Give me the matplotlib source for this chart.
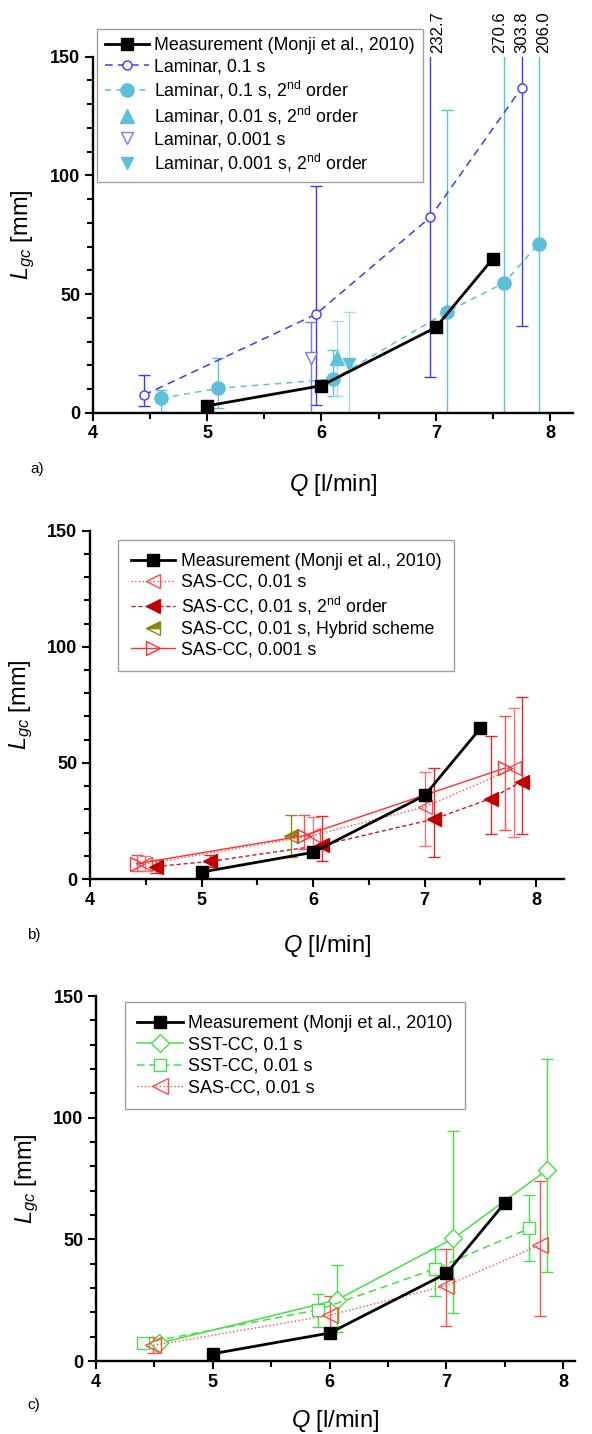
import matplotlib
matplotlib.use('Agg')
import matplotlib.pyplot as plt
from matplotlib.ticker import MultipleLocator

plt.rcParams['font.family'] = ['Liberation Sans', 'DejaVu Sans']
plt.rcParams['mathtext.fontset'] = 'custom'
plt.rcParams['mathtext.rm'] = 'Liberation Sans'
plt.rcParams['mathtext.it'] = 'Liberation Sans:italic'
plt.rcParams['mathtext.bf'] = 'Liberation Sans:bold'

# measurement (same in every panel)
meas_q = [5.0, 6.0, 7.0, 7.5]
meas_l = [3.0, 11.5, 36.0, 65.0]

# panel a
lam01_q = [4.45, 5.95, 6.95, 7.75]
lam01_l = [7.6, 41.5, 82.3, 136.8]
lam01_lo = [2.9, 3.4, 15.3, 36.8]
lam01_hi = [16.0, 95.5, 232.7, 303.8]

lam01b_q = [4.60, 5.10, 6.10, 7.10, 7.60, 7.90]
lam01b_l = [6.2, 10.4, 14.2, 42.6, 54.8, 71.3]
lam01b_lo = [0.5, 2.0, 7.1, 0.0, 0.0, 0.0]
lam01b_hi = [9.7, 23.0, 26.5, 127.7, 270.6, 206.0]

lam001b_q = [6.14]          # 0.01 s, 2nd order
lam001b_l = [23.0]
lam001b_lo = [7.1]
lam001b_hi = [38.8]

lam0001_q = [5.91]          # 0.001 s
lam0001_l = [23.2]
lam0001_lo = [0.0]
lam0001_hi = [38.4]

lam0001b_q = [6.24]         # 0.001 s, 2nd order
lam0001b_l = [20.6]
lam0001b_lo = [0.0]
lam0001b_hi = [42.6]

over_q = [7.02, 7.56, 7.75, 7.94]
over_txt = ['232.7', '270.6', '303.8', '206.0']

# panel b
sas01_q = [4.49, 6.00, 7.00, 7.80]
sas01_l = [6.4, 18.8, 31.0, 47.7]
sas01_lo = [3.4, 9.6, 14.4, 18.3]
sas01_hi = [10.0, 26.7, 46.2, 73.8]

sas01b_q = [4.59, 5.08, 6.08, 7.08, 7.59, 7.87]
sas01b_l = [5.4, 7.6, 14.6, 25.8, 34.6, 42.0]
sas01b_lo = [2.7, 5.0, 7.9, 9.7, 19.4, 19.5]
sas01b_hi = [8.0, 10.5, 27.0, 47.8, 61.5, 78.4]

hyb_q = [5.80]
hyb_l = [18.4]
hyb_lo = [9.7]
hyb_hi = [27.7]

sas001_q = [4.42, 5.92, 7.72]
sas001_l = [6.6, 18.7, 47.8]
sas001_lo = [3.3, 12.9, 21.2]
sas001_hi = [10.2, 27.7, 70.1]

# panel c
sst1_q = [4.54, 6.06, 7.06, 7.86]
sst1_l = [7.3, 25.1, 50.4, 78.5]
sst1_lo = [5.5, 12.0, 19.9, 36.7]
sst1_hi = [9.0, 39.5, 94.7, 124.0]

sst01_q = [4.40, 5.90, 6.90, 7.71]
sst01_l = [7.3, 21.0, 37.8, 54.5]
sst01_lo = [7.3, 14.0, 26.7, 41.1]
sst01_hi = [7.3, 27.5, 45.9, 68.2]

BLUE = '#3a3aff'
BLUE2 = '#7878ff'
CYAN = '#5ebfd8'
CYAN2 = '#a6dbea'
RED = '#ff4a4a'
DRED = '#c00000'
OLIVE = '#8a8a10'
GREEN = '#44e044'


def err(ax, q, l, lo, hi, color, lw=1.0):
    ax.errorbar(q, l, yerr=[[a - b for a, b in zip(l, lo)], [b - a for a, b in zip(l, hi)]],
                fmt='none', ecolor=color, elinewidth=lw, capsize=4, capthick=lw, zorder=2)


def measurement(ax):
    ax.plot(meas_q, meas_l, '-s', color='black', lw=2.0, ms=8.5, zorder=5,
            label='Measurement (Monji et al., 2010)')


def style(ax, xmax, xlab_y):
    ax.set_xlim(4, xmax)
    ax.set_ylim(0, 150)
    for s in ['top', 'right']:
        ax.spines[s].set_visible(False)
    for s in ['left', 'bottom']:
        ax.spines[s].set_linewidth(1.7)
    ax.xaxis.set_major_locator(MultipleLocator(1))
    ax.xaxis.set_minor_locator(MultipleLocator(0.5))
    ax.yaxis.set_major_locator(MultipleLocator(50))
    ax.yaxis.set_minor_locator(MultipleLocator(10))
    ax.tick_params(which='major', length=6, width=1.5, labelsize=13, pad=3)
    ax.tick_params(which='minor', length=4, width=1.5)
    for lab in ax.get_xticklabels() + ax.get_yticklabels():
        lab.set_fontweight('bold')
    ax.set_xlabel('$Q$ [l/min]', fontsize=17)
    ax.set_ylabel('$L_{gc}$ [mm]', fontsize=17)
    ax.xaxis.set_label_coords(0.5, xlab_y)
    ax.yaxis.set_label_coords(-0.115, 0.5)


fig = plt.figure(figsize=(5.92, 14.34), dpi=100)
ax1 = fig.add_axes([0.1566, 0.7120, 0.8113, 0.2485])
ax2 = fig.add_axes([0.1520, 0.3870, 0.8010, 0.2429])
ax3 = fig.add_axes([0.1622, 0.0509, 0.8090, 0.2545])

# ---- a)
err(ax1, lam01_q, lam01_l, lam01_lo, lam01_hi, BLUE)
err(ax1, lam01b_q, lam01b_l, lam01b_lo, lam01b_hi, CYAN)
err(ax1, lam001b_q, lam001b_l, lam001b_lo, lam001b_hi, CYAN2)
err(ax1, lam0001_q, lam0001_l, lam0001_lo, lam0001_hi, BLUE2)
err(ax1, lam0001b_q, lam0001b_l, lam0001b_lo, lam0001b_hi, CYAN2)
measurement(ax1)
ax1.plot(lam01_q, lam01_l, 'o', ls=(0, (5, 3.5)), color=BLUE, lw=1.1, ms=6.5,
         mfc='white', mec=BLUE, zorder=4, label='Laminar, 0.1 s')
ax1.plot(lam01b_q, lam01b_l, 'o', ls=(0, (4, 3.5)), color=CYAN, lw=1.1, ms=9.5,
         zorder=4, label='Laminar, 0.1 s, 2$^{\\mathrm{nd}}$ order')
ax1.plot(lam001b_q, lam001b_l, '^', ls='none', color=CYAN, ms=10, zorder=4,
         label='Laminar, 0.01 s, 2$^{\\mathrm{nd}}$ order')
ax1.plot(lam0001_q, lam0001_l, 'v', ls='none', mfc='white', mec=BLUE2, ms=9, zorder=4,
         label='Laminar, 0.001 s')
ax1.plot(lam0001b_q, lam0001b_l, 'v', ls='none', color=CYAN, ms=9, zorder=4,
         label='Laminar, 0.001 s, 2$^{\\mathrm{nd}}$ order')
for q, t in zip(over_q, over_txt):
    ax1.text(q, 1.01, t, transform=ax1.get_xaxis_transform(), rotation=90,
             ha='center', va='bottom', fontsize=12)
style(ax1, 8.2, -0.165)
ax1.legend(loc='upper left', bbox_to_anchor=(0.008, 1.077), fontsize=12.8, frameon=True,
           fancybox=False, edgecolor='#a0a0a0', framealpha=1, borderaxespad=0,
           handlelength=2.5, handletextpad=0.3, labelspacing=0.22, borderpad=0.45)

# ---- b)
err(ax2, sas01_q, sas01_l, sas01_lo, sas01_hi, '#ff7070')
err(ax2, sas01b_q, sas01b_l, sas01b_lo, sas01b_hi, '#e02828')
err(ax2, hyb_q, hyb_l, hyb_lo, hyb_hi, OLIVE)
err(ax2, sas001_q, sas001_l, sas001_lo, sas001_hi, '#ff5050')
measurement(ax2)
ax2.plot(sas01_q, sas01_l, '<', ls=':', color=RED, lw=1.0, ms=10, mfc='none', mec=RED,
         zorder=4, label='SAS-CC, 0.01 s')
ax2.plot(sas01b_q, sas01b_l, '<', ls=(0, (3, 2)), color='#d01818', lw=1.0, ms=10,
         mfc=DRED, mec=DRED, zorder=4, label='SAS-CC, 0.01 s, 2$^{\\mathrm{nd}}$ order')
ax2.plot(hyb_q, hyb_l, '<', ls='none', ms=10, mfc=OLIVE, mec=OLIVE, fillstyle='top',
         zorder=4, label='SAS-CC, 0.01 s, Hybrid scheme')
ax2.plot(sas001_q, sas001_l, '>', ls='-', color='#ff3030', lw=1.0, ms=10, mfc='none',
         mec='#ff3030', zorder=4, label='SAS-CC, 0.001 s')
style(ax2, 8.25, -0.155)
ax2.legend(loc='upper left', bbox_to_anchor=(0.06, 0.972), fontsize=12.8, frameon=True,
           fancybox=False, edgecolor='#a0a0a0', framealpha=1, borderaxespad=0,
           handlelength=2.5, handletextpad=0.3, labelspacing=0.22, borderpad=0.7)

# ---- c)
err(ax3, sst1_q, sst1_l, sst1_lo, sst1_hi, GREEN)
err(ax3, sst01_q, sst01_l, sst01_lo, sst01_hi, GREEN)
err(ax3, sas01_q, sas01_l, sas01_lo, sas01_hi, '#ff5050')
measurement(ax3)
ax3.plot(sst1_q, sst1_l, 'D', ls='-', color=GREEN, lw=1.1, ms=9, mfc='white', mec=GREEN,
         zorder=4, label='SST-CC, 0.1 s')
ax3.plot(sst01_q, sst01_l, 's', ls=(0, (5, 3)), color=GREEN, lw=1.1, ms=8, mfc='white',
         mec=GREEN, zorder=4, label='SST-CC, 0.01 s')
ax3.plot(sas01_q, sas01_l, '<', ls=':', color=RED, lw=1.0, ms=11, mfc='none', mec=RED,
         zorder=4, label='SAS-CC, 0.01 s')
style(ax3, 8.1, -0.13)
ax3.legend(loc='upper left', bbox_to_anchor=(0.06, 0.983), fontsize=13, frameon=True,
           fancybox=False, edgecolor='#a0a0a0', framealpha=1, borderaxespad=0,
           handlelength=2.5, handletextpad=0.3, labelspacing=0.25, borderpad=0.7)

fig.text(30 / 592, 1 - 469 / 1434, 'a)', fontsize=11, va='center')
fig.text(27 / 592, 1 - 935 / 1434, 'b)', fontsize=11, va='center')
fig.text(27 / 592, 1 - 1405 / 1434, 'c)', fontsize=11, va='center')

fig.savefig('out.png', dpi=100)
